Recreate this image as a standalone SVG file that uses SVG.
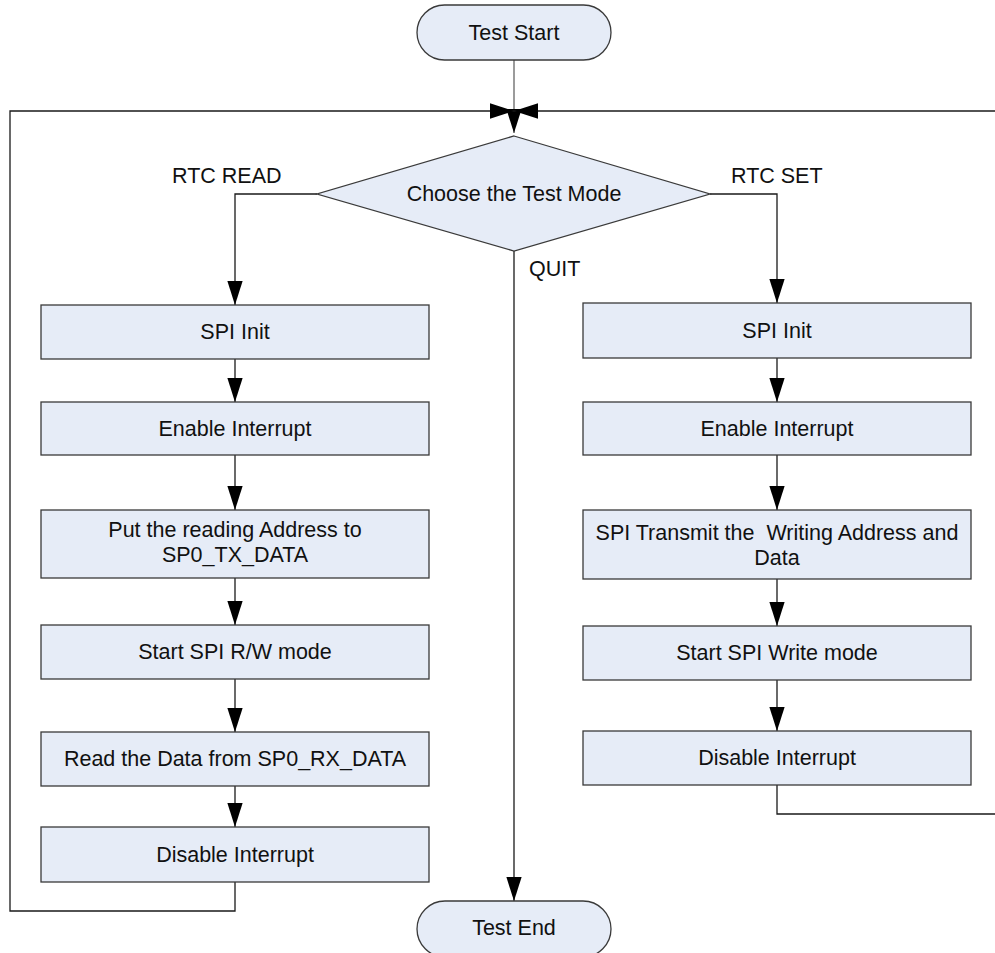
<svg xmlns="http://www.w3.org/2000/svg" width="995" height="953" viewBox="0 0 995 953">
  <style>
    .box { fill: #E6ECF7; stroke: #3a3a3a; stroke-width: 1.3; }
    .lbl { font-family: "Liberation Sans", Arial, sans-serif; font-size: 21.5px; fill: #111; white-space: pre; }
    .mid { text-anchor: middle; }
    .wire { fill: none; stroke: #1a1a1a; stroke-width: 1.3; }
    .wire-grey { fill: none; stroke: #7a7a7a; stroke-width: 1.5; }
  </style>
  <defs>
    <marker id="arrow" markerUnits="userSpaceOnUse" markerWidth="24" markerHeight="16" viewBox="0 0 22 14" refX="22" refY="7" orient="auto">
      <path d="M0,0 L22,7 L0,14 Z" fill="#000"/>
    </marker>
  </defs>

  <rect width="995" height="953" fill="#fff"/>

  <!-- connectors -->
  <g id="connectors">
    <path class="wire-grey" d="M514,60 V133" marker-end="url(#arrow)"/>
    <path class="wire" d="M235,882 V911 H10 V111 H514" marker-end="url(#arrow)"/>
    <path class="wire" d="M995,111 H514" marker-end="url(#arrow)"/>
    <path class="wire" d="M317,194 H235 V305" marker-end="url(#arrow)"/>
    <path class="wire" d="M710,194 H777 V303" marker-end="url(#arrow)"/>
    <path class="wire" d="M514,251 V901" marker-end="url(#arrow)"/>
    <path class="wire" d="M235,359 V402" marker-end="url(#arrow)"/>
    <path class="wire" d="M235,455 V510" marker-end="url(#arrow)"/>
    <path class="wire" d="M235,578 V625" marker-end="url(#arrow)"/>
    <path class="wire" d="M235,679 V732" marker-end="url(#arrow)"/>
    <path class="wire" d="M235,786 V827" marker-end="url(#arrow)"/>
    <path class="wire" d="M777,358 V402" marker-end="url(#arrow)"/>
    <path class="wire" d="M777,455 V510" marker-end="url(#arrow)"/>
    <path class="wire" d="M777,579 V626" marker-end="url(#arrow)"/>
    <path class="wire" d="M777,680 V731" marker-end="url(#arrow)"/>
    <path class="wire" d="M777,785 V814 H995"/>
    <text class="lbl" x="172" y="183">RTC READ</text>
    <text class="lbl" x="731" y="183">RTC SET</text>
    <text class="lbl" x="529" y="276">QUIT</text>
  </g>

  <g id="test-start">
    <rect class="box" x="417" y="5" width="194" height="55" rx="27.5"/>
    <text class="lbl mid" x="514" y="40">Test Start</text>
  </g>

  <g id="choose-mode">
    <polygon class="box" points="514,136 710,194 514,251 317,194"/>
    <text class="lbl mid" x="514" y="201">Choose the Test Mode</text>
  </g>

  <!-- read branch -->
  <g id="read-spi-init">
    <rect class="box" x="41" y="305" width="388" height="54"/>
    <text class="lbl mid" x="235" y="339">SPI Init</text>
  </g>
  <g id="read-enable-int">
    <rect class="box" x="41" y="402" width="388" height="53"/>
    <text class="lbl mid" x="235" y="436">Enable Interrupt</text>
  </g>
  <g id="read-put-address">
    <rect class="box" x="41" y="510" width="388" height="68"/>
    <text class="lbl mid" x="235" y="537">Put the reading Address to</text>
    <text class="lbl mid" x="235" y="562">SP0_TX_DATA</text>
  </g>
  <g id="read-start-rw">
    <rect class="box" x="41" y="625" width="388" height="54"/>
    <text class="lbl mid" x="235" y="659">Start SPI R/W mode</text>
  </g>
  <g id="read-data">
    <rect class="box" x="41" y="732" width="388" height="54"/>
    <text class="lbl mid" x="235" y="766">Read the Data from SP0_RX_DATA</text>
  </g>
  <g id="read-disable-int">
    <rect class="box" x="41" y="827" width="388" height="55"/>
    <text class="lbl mid" x="235" y="862">Disable Interrupt</text>
  </g>

  <!-- set branch -->
  <g id="set-spi-init">
    <rect class="box" x="583" y="303" width="388" height="55"/>
    <text class="lbl mid" x="777" y="338">SPI Init</text>
  </g>
  <g id="set-enable-int">
    <rect class="box" x="583" y="402" width="388" height="53"/>
    <text class="lbl mid" x="777" y="436">Enable Interrupt</text>
  </g>
  <g id="set-transmit">
    <rect class="box" x="583" y="510" width="388" height="69"/>
    <text class="lbl mid" x="777" y="540">SPI Transmit the  Writing Address and</text>
    <text class="lbl mid" x="777" y="565">Data</text>
  </g>
  <g id="set-start-write">
    <rect class="box" x="583" y="626" width="388" height="54"/>
    <text class="lbl mid" x="777" y="660">Start SPI Write mode</text>
  </g>
  <g id="set-disable-int">
    <rect class="box" x="583" y="731" width="388" height="54"/>
    <text class="lbl mid" x="777" y="765">Disable Interrupt</text>
  </g>

  <g id="test-end">
    <rect class="box" x="417" y="901" width="194" height="56" rx="28"/>
    <text class="lbl mid" x="514" y="935">Test End</text>
  </g>
</svg>
